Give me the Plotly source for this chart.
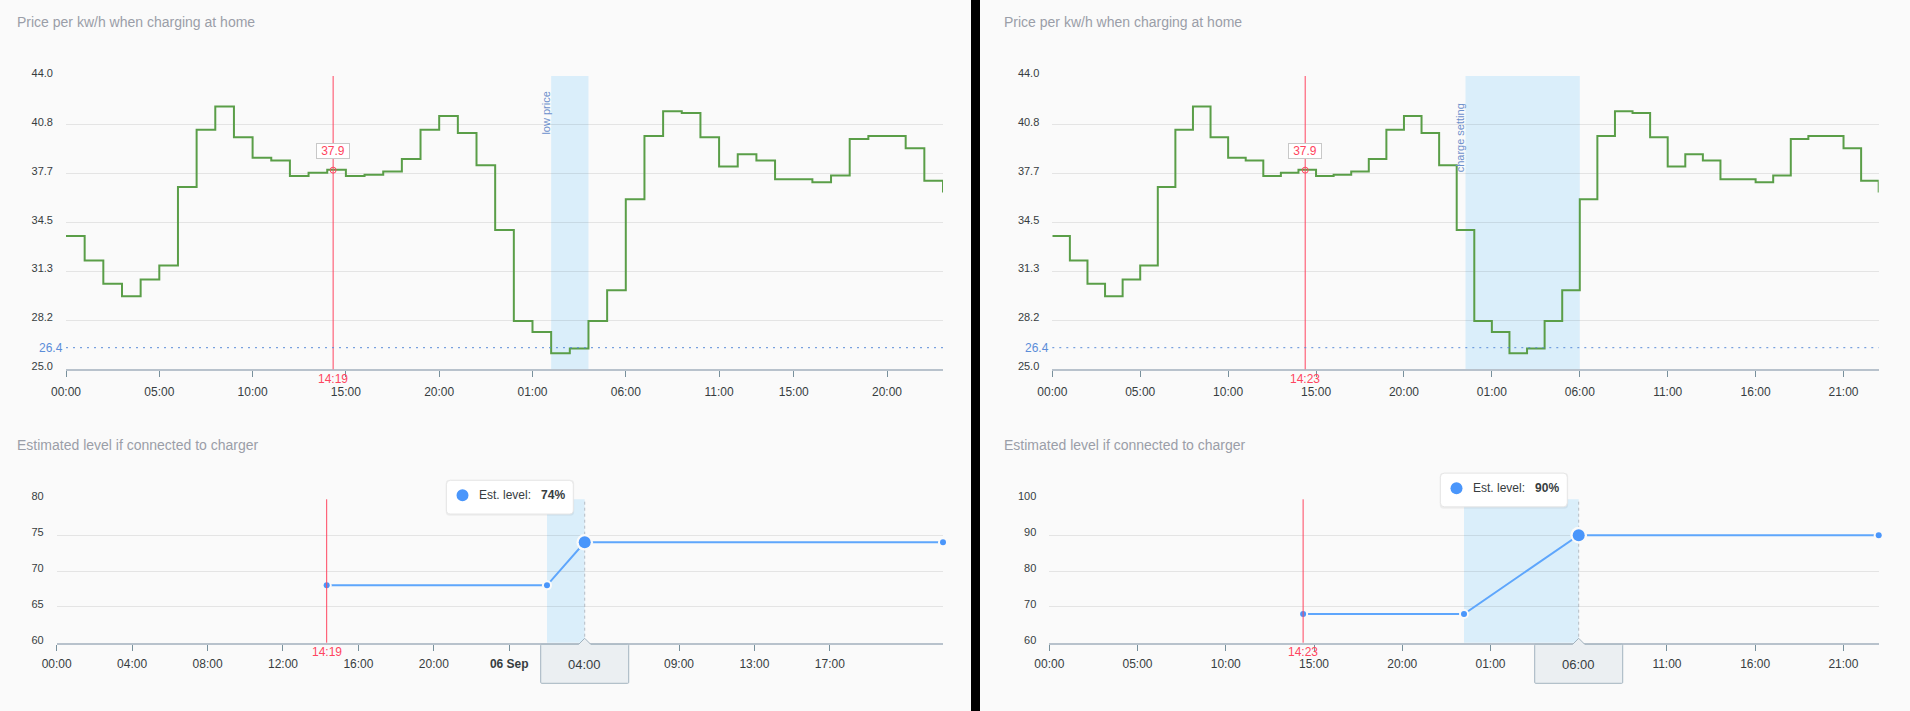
import plotly.graph_objs as go

FONT = 'Liberation Sans'
W, H = 1910, 711
END_HOUR = 47

# price per kwh, one value per hour from 00:00 on 05 Sep
PRICE_HOURS = list(range(48))
PRICE_VALUES = [33.64, 32.04, 30.55, 29.73, 30.81, 31.72, 36.81, 40.51, 42.02, 40.03, 38.71, 38.52,
                37.53, 37.74, 37.92, 37.53, 37.61, 37.81, 38.63, 40.51, 41.41, 40.31, 38.22, 34.03,
                28.13, 27.42, 26.04, 26.34, 28.13, 30.12, 36.01, 40.12, 41.72, 41.61, 40.03, 38.13,
                38.93, 38.52, 37.31, 37.31, 37.12, 37.55, 39.92, 40.12, 40.12, 39.32, 37.22, 36.45]
PRICE_TICKS = [25, 28.17, 31.33, 34.5, 37.67, 40.83, 44]
LOW_PRICE = 26.4
NOW_PRICE = 37.9

# left screen
LEFT_NOW_HOUR = 14 + 19 / 60
LEFT_NOW_TEXT = '14:19'
LEFT_BAND = [26, 28]
LEFT_BAND_TEXT = 'low price'
LEFT_PRICE_TICKS = [0, 5, 10, 15, 20, 25, 30, 35, 39, 44]
LEFT_PRICE_LABELS = ['00:00', '05:00', '10:00', '15:00', '20:00', '01:00', '06:00', '11:00', '15:00', '20:00']
LEFT_LEVEL_HOURS = [LEFT_NOW_HOUR, 26, 28, 47]
LEFT_LEVEL_VALUES = [68, 68, 74, 74]
LEFT_LEVEL_TICKS = [60, 65, 70, 75, 80]
LEFT_LEVEL_XTICKS = [0, 4, 8, 12, 16, 20, 24, 29, 33, 37, 41]
LEFT_LEVEL_XLABELS = ['00:00', '04:00', '08:00', '12:00', '16:00', '20:00', '<b>06 Sep</b>', '', '09:00', '13:00', '17:00']
LEFT_CHARGE_END = 28
LEFT_CHARGE_TEXT = '04:00'
LEFT_CHARGE_LEVEL = 74

# right screen
RIGHT_NOW_HOUR = 14 + 23 / 60
RIGHT_NOW_TEXT = '14:23'
RIGHT_BAND = [23.5, 30]
RIGHT_BAND_TEXT = 'charge setting'
RIGHT_PRICE_TICKS = [0, 5, 10, 15, 20, 25, 30, 35, 40, 45]
RIGHT_PRICE_LABELS = ['00:00', '05:00', '10:00', '15:00', '20:00', '01:00', '06:00', '11:00', '16:00', '21:00']
RIGHT_LEVEL_HOURS = [RIGHT_NOW_HOUR, 23.5, 30, 47]
RIGHT_LEVEL_VALUES = [68, 68, 90, 90]
RIGHT_LEVEL_TICKS = [60, 70, 80, 90, 100]
RIGHT_LEVEL_XTICKS = [0, 5, 10, 15, 20, 25, 30, 35, 40, 45]
RIGHT_LEVEL_XLABELS = ['00:00', '05:00', '10:00', '15:00', '20:00', '01:00', '', '11:00', '16:00', '21:00']
RIGHT_CHARGE_END = 30
RIGHT_CHARGE_TEXT = '06:00'
RIGHT_CHARGE_LEVEL = 90

BG = '#fafafa'
RED = '#ff4560'
BLUE = '#4a96fb'
LINE_BLUE = '#5ea6fc'
GREEN = '#5a9e48'
TEXT = '#373d3f'
TITLE = '#9a9ea8'
LABEL_BLUE = '#6d90cc'
BAND = '#daeefa'
GRID = 'rgba(0,0,0,0.085)'

fig = go.Figure()
shapes = []
annotations = []
layout = {}


def px_x(x):
    return x / W


def px_y(y):
    return 1 - y / H


def title(text, x, y):
    annotations.append(dict(text=text, xref='paper', yref='paper', x=px_x(x), y=px_y(y),
                            xanchor='left', yanchor='middle', showarrow=False,
                            font=dict(family=FONT, size=14, color=TITLE)))


def set_axes(n, x0, x1, y0, y1, xticks, xlabels, yticks, yrange, yformat, standoff):
    suffix = '' if n == 1 else str(n)
    layout['xaxis' + suffix] = dict(
        domain=[px_x(x0), px_x(x1)], range=[0, END_HOUR], anchor='y' + suffix,
        showgrid=False, zeroline=False, showline=True, linecolor='#b8c2cc', linewidth=2,
        ticks='outside', ticklen=6, tickwidth=1, tickcolor='#78909c',
        tickvals=xticks, ticktext=xlabels, tickangle=0, ticklabelstandoff=standoff,
        tickfont=dict(family=FONT, size=12, color=TEXT))
    layout['yaxis' + suffix] = dict(
        domain=[px_y(y1), px_y(y0)], range=yrange, anchor='x' + suffix,
        showgrid=True, gridcolor=GRID, gridwidth=1, zeroline=False, showline=False,
        tickvals=yticks, tickformat=yformat, ticklabelstandoff=12, ticklabelshift=-3,
        tickfont=dict(family=FONT, size=11, color=TEXT))


def add_now_line(n, hour, text):
    suffix = '' if n == 1 else str(n)
    shapes.append(dict(type='line', xref='x' + suffix, yref='y' + suffix + ' domain', layer='above',
                       x0=hour, x1=hour, y0=0, y1=1, line=dict(color=RED, width=1)))
    annotations.append(dict(text=text, xref='x' + suffix, yref='y' + suffix + ' domain', x=hour, y=0,
                            yanchor='middle', yshift=-9.4, showarrow=False,
                            font=dict(family=FONT, size=12, color=RED)))


def add_band(n, band):
    suffix = '' if n == 1 else str(n)
    shapes.append(dict(type='rect', xref='x' + suffix, yref='y' + suffix + ' domain', layer='below',
                       x0=band[0], x1=band[1], y0=0, y1=1, fillcolor=BAND, line=dict(width=0)))


def add_price(n, now_hour, now_text, band, band_text, band_y):
    suffix = '' if n == 1 else str(n)
    add_band(n, band)
    fig.add_trace(go.Scatter(x=PRICE_HOURS, y=PRICE_VALUES, mode='lines', showlegend=False,
                             xaxis='x' + suffix, yaxis='y' + suffix, cliponaxis=False,
                             line=dict(color=GREEN, width=2, shape='hv')))
    # marker on the price at the current time
    fig.add_trace(go.Scatter(x=[now_hour], y=[NOW_PRICE], mode='markers', showlegend=False,
                             xaxis='x' + suffix, yaxis='y' + suffix,
                             marker=dict(symbol='circle-open', size=6, color=RED, line=dict(color=RED, width=1))))
    add_now_line(n, now_hour, now_text)
    shapes.append(dict(type='line', xref='x' + suffix + ' domain', yref='y' + suffix, layer='above',
                       x0=0, x1=1, y0=LOW_PRICE, y1=LOW_PRICE,
                       line=dict(color='#5b8dd9', width=1, dash='2px,5px')))
    annotations.append(dict(text=f'{LOW_PRICE}', xref='x' + suffix + ' domain', yref='y' + suffix,
                            x=0, y=LOW_PRICE, xanchor='right', yanchor='middle', xshift=-1, showarrow=False,
                            font=dict(family=FONT, size=12, color='#5b8dd9')))
    annotations.append(dict(text=f'{NOW_PRICE}', xref='x' + suffix, yref='y' + suffix, x=now_hour, y=NOW_PRICE,
                            yanchor='middle', yshift=19, showarrow=False, width=32, height=14,
                            bgcolor='#ffffff', bordercolor='#c8c8c8', borderwidth=1, borderpad=0,
                            font=dict(family=FONT, size=12, color=RED)))
    annotations.append(dict(text=band_text, textangle=-90, xref='x' + suffix, yref='y' + suffix + ' domain',
                            x=band[0], y=band_y, xanchor='right', yanchor='middle', xshift=1.5, showarrow=False,
                            borderpad=0, font=dict(family=FONT, size=11, color=LABEL_BLUE)))


def rounded_box(left, right, bottom, top, r):
    return (f'M {left + r} {top} L {right - r} {top} Q {right} {top} {right} {top - r} '
            f'L {right} {bottom + r} Q {right} {bottom} {right - r} {bottom} '
            f'L {left + r} {bottom} Q {left} {bottom} {left} {bottom + r} '
            f'L {left} {top - r} Q {left} {top} {left + r} {top} Z')


def add_level(n, hours, values, now_hour, now_text, band, end_hour, end_text, end_level, yrange):
    suffix = '' if n == 1 else str(n)
    xdom = 'x' + suffix + ' domain'
    ydom = 'y' + suffix + ' domain'
    add_band(n, band)
    shapes.append(dict(type='line', xref='x' + suffix, yref=ydom, layer='below', x0=end_hour, x1=end_hour,
                       y0=0, y1=1, line=dict(color='#b4bcc4', width=1, dash='3px,3px')))
    # line with a pale ring round each point, then the points on top
    # array sizes count as bubbles, so opacity and outline have to be set
    fig.add_trace(go.Scatter(x=hours, y=values, mode='lines+markers', showlegend=False,
                             xaxis='x' + suffix, yaxis='y' + suffix, cliponaxis=False,
                             line=dict(color=LINE_BLUE, width=2),
                             marker=dict(color=BG, opacity=1, line=dict(width=0),
                                         size=[16.6 if h == end_hour else 10 for h in hours])))
    fig.add_trace(go.Scatter(x=hours, y=values, mode='markers', showlegend=False,
                             xaxis='x' + suffix, yaxis='y' + suffix, cliponaxis=False,
                             marker=dict(color=BLUE, opacity=1, line=dict(width=0),
                                         size=[12 if h == end_hour else 6 for h in hours])))
    add_now_line(n, now_hour, now_text)

    fx = end_hour / END_HOUR
    fy = (end_level - yrange[0]) / (yrange[1] - yrange[0])
    common = dict(xref=xdom, yref=ydom, layer='above', xsizemode='pixel', ysizemode='pixel', xanchor=fx)

    # crosshair time label
    box = ('M -43 -1.6 L -6 -1.6 L 0 4.4 L 6 -1.6 L 43 -1.6 Q 44 -1.6 44 -2.6 L 44 -39.6 Q 44 -40.6 43 -40.6 '
           'L -43 -40.6 Q -44 -40.6 -44 -39.6 L -44 -2.6 Q -44 -1.6 -43 -1.6 Z')
    shapes.append(dict(type='path', path=box, yanchor=0, fillcolor='#ebeff2',
                       line=dict(color='#a3b3bf', width=1), **common))
    annotations.append(dict(text=end_text, xref=xdom, yref=ydom, x=fx, y=0, yanchor='middle', yshift=-21.4,
                            showarrow=False, font=dict(family=FONT, size=13, color=TEXT)))

    # tooltip
    shapes.append(dict(type='path', path=rounded_box(-139, -10.5, 26.5, 62.5, 4), yanchor=fy,
                       fillcolor='rgba(0,0,0,0.05)', line=dict(width=0), **common))
    shapes.append(dict(type='path', path=rounded_box(-138.3, -11.4, 28.3, 62, 4), yanchor=fy,
                       fillcolor='#ffffff', line=dict(color='#e6e6e6', width=1), **common))
    shapes.append(dict(type='circle', x0=-128.2, x1=-116.2, y0=41, y1=53, yanchor=fy,
                       fillcolor=BLUE, line=dict(width=0), **common))
    annotations.append(dict(text=f'Est. level:&nbsp;&nbsp; <b>{end_level}%</b>', xref=xdom, yref=ydom,
                            x=fx, y=fy, xanchor='left', yanchor='middle', xshift=-108, yshift=47,
                            showarrow=False, font=dict(family=FONT, size=12, color=TEXT)))


# left screen
title('Price per kw/h when charging at home', 15.3, 21.7)
title('Estimated level if connected to charger', 15.3, 445)
set_axes(1, 66, 943, 76, 369.3, LEFT_PRICE_TICKS, LEFT_PRICE_LABELS, PRICE_TICKS, [25, 44], '.1f', 4)
add_price(1, LEFT_NOW_HOUR, LEFT_NOW_TEXT, LEFT_BAND, LEFT_BAND_TEXT, 0.874)
set_axes(2, 56.7, 943, 499.3, 642.7, LEFT_LEVEL_XTICKS, LEFT_LEVEL_XLABELS, LEFT_LEVEL_TICKS, [60, 80], 'd', 3)
add_level(2, LEFT_LEVEL_HOURS, LEFT_LEVEL_VALUES, LEFT_NOW_HOUR, LEFT_NOW_TEXT, LEFT_BAND,
          LEFT_CHARGE_END, LEFT_CHARGE_TEXT, LEFT_CHARGE_LEVEL, [60, 80])

# right screen
title('Price per kw/h when charging at home', 1001.9, 21.7)
title('Estimated level if connected to charger', 1001.9, 445)
set_axes(3, 1052.3, 1878.7, 76, 369.3, RIGHT_PRICE_TICKS, RIGHT_PRICE_LABELS, PRICE_TICKS, [25, 44], '.1f', 4)
add_price(3, RIGHT_NOW_HOUR, RIGHT_NOW_TEXT, RIGHT_BAND, RIGHT_BAND_TEXT, 0.7875)
set_axes(4, 1049.3, 1878.7, 499.3, 642.7, RIGHT_LEVEL_XTICKS, RIGHT_LEVEL_XLABELS, RIGHT_LEVEL_TICKS, [60, 100], 'd', 3)
add_level(4, RIGHT_LEVEL_HOURS, RIGHT_LEVEL_VALUES, RIGHT_NOW_HOUR, RIGHT_NOW_TEXT, RIGHT_BAND,
          RIGHT_CHARGE_END, RIGHT_CHARGE_TEXT, RIGHT_CHARGE_LEVEL, [60, 100])

# black divider between the two screens
shapes.append(dict(type='rect', xref='paper', yref='paper', x0=px_x(971), x1=px_x(980), y0=0, y1=1,
                   fillcolor='#000000', line=dict(width=0), layer='below'))

fig.update_layout(width=W, height=H, margin=dict(l=0, r=0, t=0, b=0, autoexpand=False),
                  paper_bgcolor=BG, plot_bgcolor=BG, showlegend=False,
                  shapes=shapes, annotations=annotations, **layout)

fig.write_html("out.html", config={'displayModeBar': False},
               post_script="document.body.style.margin='0';document.body.style.overflow='hidden';")
